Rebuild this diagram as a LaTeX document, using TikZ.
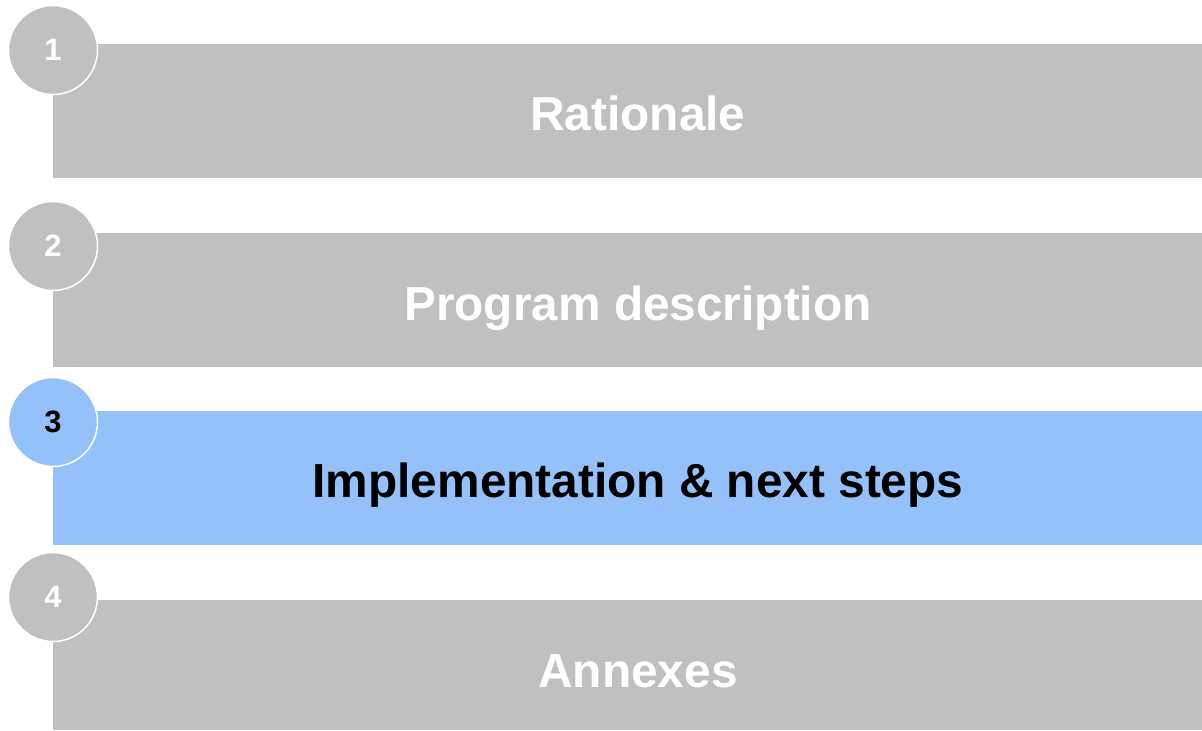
\documentclass[tikz,border=0pt]{standalone}
\usepackage{fontspec}
\setmainfont{Liberation Sans}
\definecolor{secgray}{RGB}{192,192,192}
\definecolor{secblue}{RGB}{149,193,250}
\tikzset{
  secnum/.style={circle, fill=#1, draw=white, line width=0.85pt, minimum size=1.78cm, inner sep=0pt,
    font=\fontsize{17.6}{20}\selectfont\bfseries},
  sectitle/.style={anchor=base, inner sep=0pt, font=\fontsize{27.2}{32}\selectfont\bfseries}
}

\begin{document}
\begin{tikzpicture}[x=0.02cm, y=-0.02cm]
      \useasboundingbox (0,0) rectangle (1202,730);
      \fill[secgray] (53,44)  rectangle (1202,178);
      \fill[secgray] (53,233) rectangle (1202,367);
      \fill[secblue] (53,411) rectangle (1202,545);
      \fill[secgray] (53,600) rectangle (1202,730);
      \node[secnum=secgray, text=white] (n1) at (53,50)  {1};
      \node[secnum=secgray, text=white] (n2) at (53,246) {2};
      \node[secnum=secblue, text=black] (n3) at (53,422) {3};
      \node[secnum=secgray, text=white] (n4) at (53,597) {4};
      \node[sectitle, text=white] (t1) at (638,130) {Rationale};
      \node[sectitle, text=white] (t2) at (638,320) {Program description};
      \node[sectitle, text=black] (t3) at (638,497) {Implementation \& next steps};
      \node[sectitle, text=white] (t4) at (638,687) {Annexes};
    \end{tikzpicture}
\end{document}
